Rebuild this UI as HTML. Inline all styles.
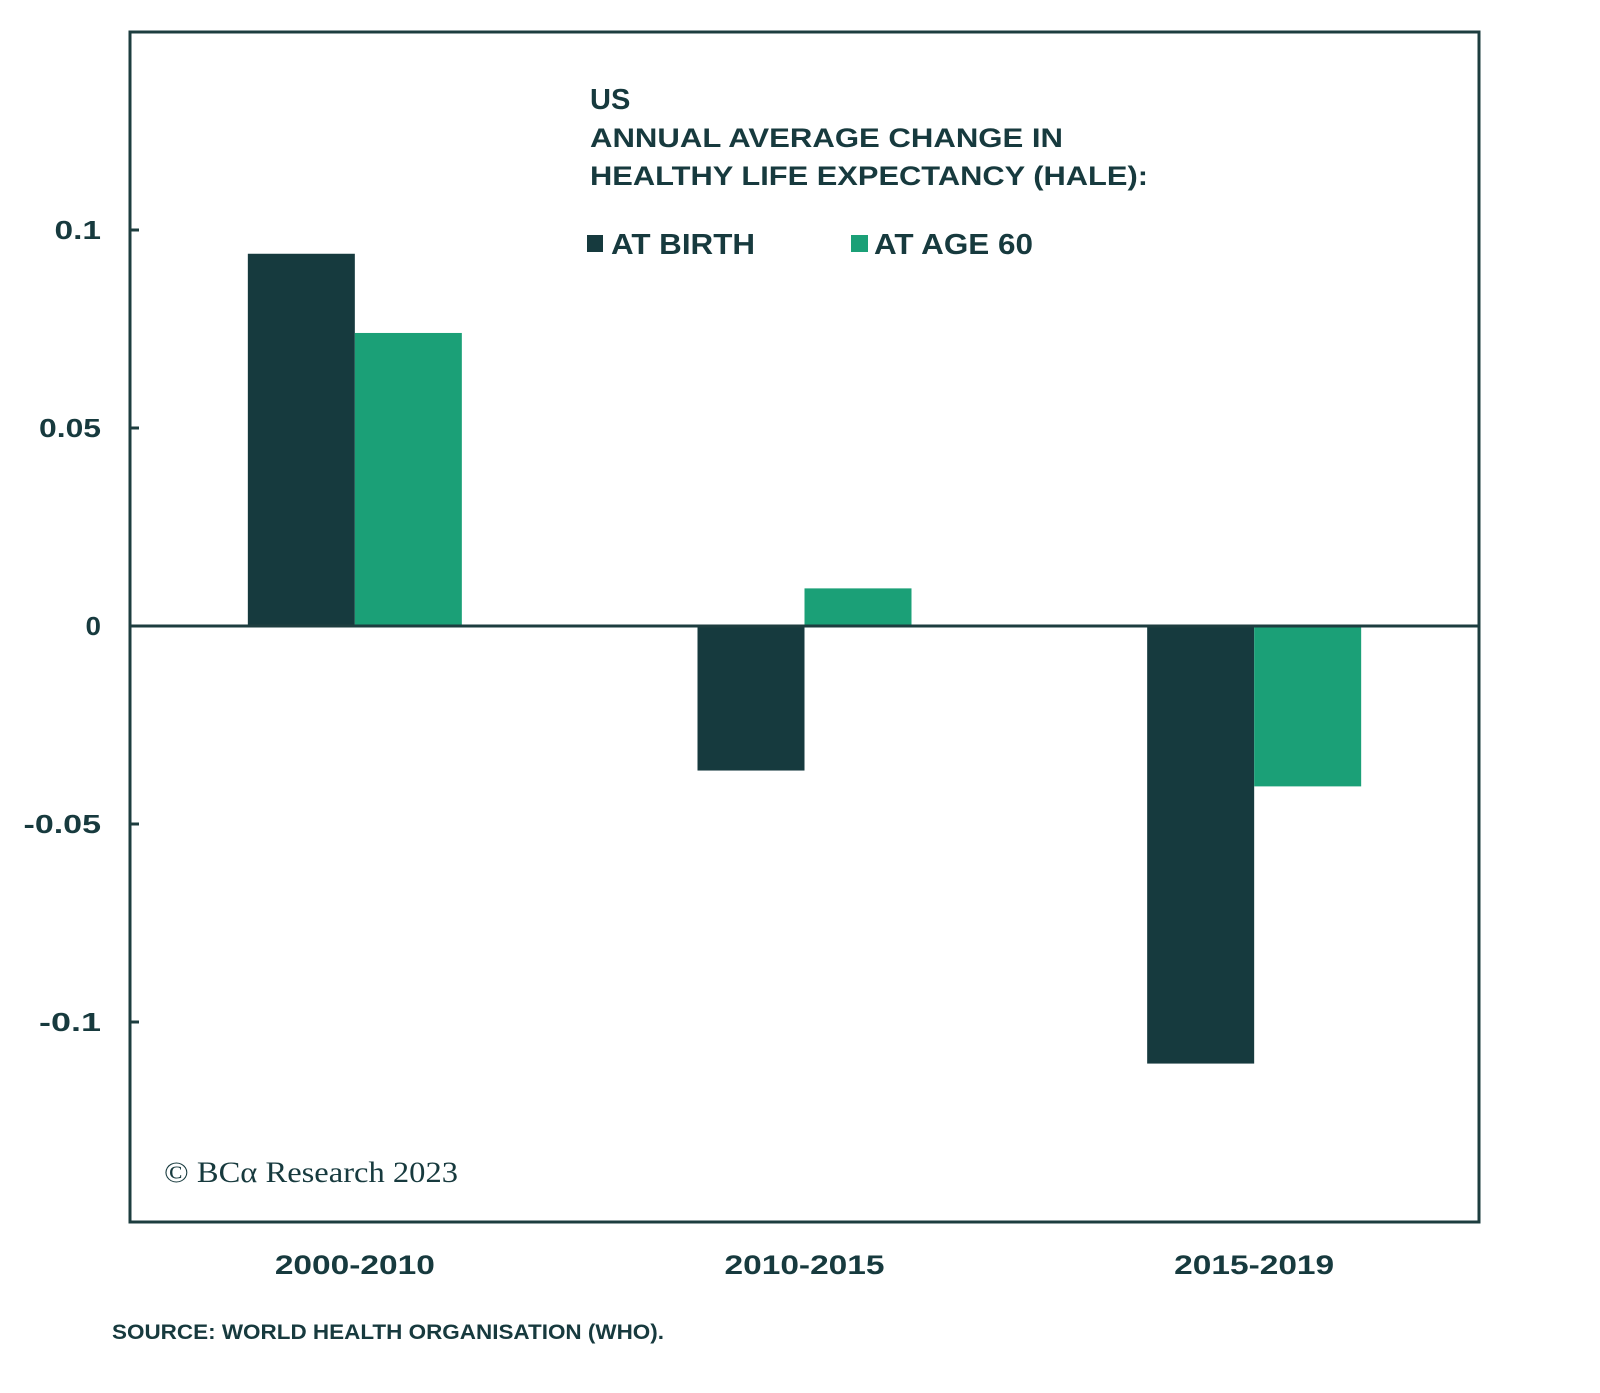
<!DOCTYPE html>
<html><head><meta charset="utf-8"><style>
html,body{margin:0;padding:0;background:#fff;}
svg{display:block;}
text{font-family:"Liberation Sans",sans-serif;fill:#173a3e;}
</style></head><body>
<svg id="chart" width="1600" height="1393" viewBox="0 0 1600 1393" xmlns="http://www.w3.org/2000/svg">
<rect x="130" y="32" width="1349" height="1190" fill="none" stroke="#1d3d3f" stroke-width="3"/>
<g id="yaxis"></g>
<g id="bars"></g>
<line id="zero" stroke="#1d3d3f" stroke-width="3"/>
<g id="xaxis"></g>
<g>
<text x="590" y="109" font-size="29" font-weight="bold">US</text>
<text x="590" y="147" font-size="27" font-weight="bold" textLength="473" lengthAdjust="spacingAndGlyphs">ANNUAL AVERAGE CHANGE IN</text>
<text x="590" y="185" font-size="27" font-weight="bold" textLength="558" lengthAdjust="spacingAndGlyphs">HEALTHY LIFE EXPECTANCY (HALE):</text>
</g>
<g>
<rect x="587" y="235" width="16" height="17" fill="#163a3e"/>
<text x="611" y="254" font-size="29" font-weight="bold" textLength="144" lengthAdjust="spacingAndGlyphs">AT BIRTH</text>
<rect x="851" y="235" width="17" height="17" fill="#1ba077"/>
<text x="874" y="254" font-size="29" font-weight="bold" textLength="159" lengthAdjust="spacingAndGlyphs">AT AGE 60</text>
</g>
<text x="164" y="1182" font-size="30" style="font-family:'Liberation Serif',serif" textLength="294" lengthAdjust="spacingAndGlyphs">© BCα Research 2023</text>
<text x="112" y="1339" font-size="21" font-weight="bold" textLength="552" lengthAdjust="spacingAndGlyphs">SOURCE: WORLD HEALTH ORGANISATION (WHO).</text>
</svg>
<script>
const categories = ["2000-2010", "2010-2015", "2015-2019"];
const atBirth = [0.094, -0.0365, -0.1105];
const atAge60 = [0.074, 0.0095, -0.0405];
const yTicks = [0.1, 0.05, 0, -0.05, -0.1];
const yTickLabels = ["0.1", "0.05", "0", "-0.05", "-0.1"];

const NS = "http://www.w3.org/2000/svg";
const plotL = 130, plotR = 1479, zeroY = 626, pxPerUnit = 3960, barW = 107;
function y(v){ return zeroY - v * pxPerUnit; }
function xCenter(i){ return plotL + (i + 0.5) * (plotR - plotL) / categories.length; }
function mk(tag, attrs){ const e = document.createElementNS(NS, tag); for (const k in attrs) e.setAttribute(k, attrs[k]); return e; }

const yaxis = document.getElementById('yaxis');
yTicks.forEach((t, i) => {
  const tk = mk('line', {x1: plotL, x2: plotL + 9, y1: y(t), y2: y(t), stroke: '#1d3d3f', 'stroke-width': 3});
  
  
  yaxis.appendChild(tk);
  const s = yTickLabels[i];
  const lb = mk('text', {x: 101, y: y(t) + 9, 'font-size': 26, 'font-weight': 'bold', 'text-anchor': 'end', textLength: s.length * 15.5, lengthAdjust: 'spacingAndGlyphs'});
  lb.textContent = s;
  
  
  yaxis.appendChild(lb);
});

const bars = document.getElementById('bars');
function bar(v, x, color, name){
  const top = Math.min(y(v), y(0)), h = Math.abs(y(v) - y(0));
  const r = mk('rect', {x: x, y: top, width: barW, height: h, fill: color});
  
  
  bars.appendChild(r);
}
categories.forEach((c, i) => {
  const cx = xCenter(i);
  bar(atBirth[i], cx - barW, '#163a3e', 'bar-at-birth-' + c);
  bar(atAge60[i], cx, '#1ba077', 'bar-at-age-60-' + c);
});

const z = document.getElementById('zero');
z.setAttribute('x1', plotL); z.setAttribute('x2', plotR);
z.setAttribute('y1', y(0)); z.setAttribute('y2', y(0));

const xaxis = document.getElementById('xaxis');
categories.forEach((c, i) => {
  const t = mk('text', {x: xCenter(i), y: 1274, 'font-size': 27, 'font-weight': 'bold', 'text-anchor': 'middle', textLength: 160, lengthAdjust: 'spacingAndGlyphs'});
  t.textContent = c;
  
  
  xaxis.appendChild(t);
});
</script>
</body></html>
